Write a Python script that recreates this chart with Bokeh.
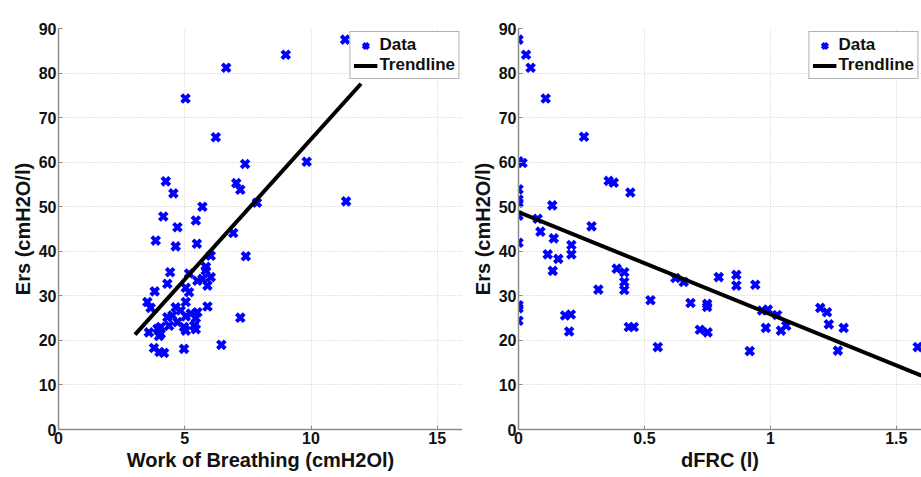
from bokeh.plotting import figure
from bokeh.layouts import row
from bokeh.models import Range1d, FixedTicker, Legend, LegendItem, BoxAnnotation
from bokeh.embed import file_html
from bokeh.resources import INLINE

# ---- Left panel: Work of Breathing vs Ers ----
wob_x = [11.35, 9.0, 6.64, 5.03, 6.23, 9.83, 7.39, 4.25, 7.04, 7.2, 4.55, 11.39, 7.86, 5.7,
         4.15, 5.44, 4.71, 6.92, 3.85, 5.48, 4.64,
         7.42, 6.03, 4.42, 4.31, 3.81, 3.52, 3.65, 3.58, 3.78, 4.0, 4.18, 4.97, 6.45, 7.2,
         5.9, 5.17, 5.83, 6.03, 5.7, 5.9, 5.5, 5.04, 5.17, 5.04, 4.64, 4.84, 5.24, 4.51,
         5.5, 5.44, 5.04, 4.71, 4.38, 4.05, 4.97, 5.37, 5.44, 5.04, 3.92, 4.05, 3.98, 4.31, 5.84]
wob_ers = [87.5, 84.1, 81.2, 74.3, 65.6, 60.1, 59.6, 55.7, 55.3, 53.8, 53.0, 51.2, 50.9, 50.0,
           47.8, 46.9, 45.4, 44.1, 42.4, 41.7, 41.1,
           38.9, 39.0, 35.3, 32.7, 31.0, 28.6, 27.3, 21.8, 18.3, 17.4, 17.2, 18.1, 19.0, 25.1,
           27.6, 35.0, 35.7, 34.2, 33.8, 32.3, 33.4, 31.8, 30.8, 28.6, 27.4, 26.7, 26.0, 25.6,
           26.3, 25.0, 25.4, 24.1, 23.3, 23.0, 23.0, 23.3, 22.5, 22.2, 22.6, 21.5, 21.0, 25.2, 36.5]
wob_trend_x = [3.03, 11.98]
wob_trend_y = [21.3, 77.6]

# ---- Right panel: dFRC vs Ers ----
dfrc_x = [0.0, 0.03, 0.048, 0.108, 0.26, 0.0, 0.016, 0.0, 0.0, 0.0, 0.134, 0.358, 0.378, 0.444,
          0.0, 0.076, 0.087, 0.29, 0.14, 0.0, 0.21,
          0.116, 0.158, 0.136, 0.21, 0.317, 0.39, 0.42, 0.42, 0.42, 0.0, 0.0, 0.0, 0.185, 0.208,
          0.201, 0.438, 0.458, 0.524, 0.553, 0.623, 0.656, 0.683, 0.749, 0.749, 0.72, 0.751,
          0.795, 0.865, 0.865, 0.94, 0.918, 0.967, 0.99, 0.982, 1.027, 1.042, 1.063, 1.198,
          1.225, 1.232, 1.291, 1.268, 1.585]
dfrc_ers = [87.5, 84.1, 81.2, 74.3, 65.7, 60.2, 59.8, 53.9, 51.6, 50.9, 50.3, 55.8, 55.4, 53.2,
            48.0, 47.3, 44.4, 45.6, 42.9, 41.9, 41.4,
            39.3, 38.3, 35.6, 39.3, 31.4, 36.1, 35.3, 33.1, 31.3, 27.9, 27.2, 24.4, 25.6, 25.8,
            22.0, 23.0, 23.0, 29.0, 18.5, 34.0, 33.1, 28.4, 28.2, 27.5, 22.4, 21.8,
            34.2, 34.7, 32.3, 32.5, 17.6, 26.7, 26.9, 22.8, 25.7, 22.2, 23.3, 27.3,
            26.3, 23.6, 22.8, 17.7, 18.5]
dfrc_trend_x = [0.0, 1.6]
dfrc_trend_y = [48.8, 12.1]

y_ticks = [0, 10, 20, 30, 40, 50, 60, 70, 80, 90]
wob_ticks = [0, 5, 10, 15]
dfrc_ticks = [0, 0.5, 1, 1.5]

FONT = "Liberation Sans"
BLUE = "#0000FF"


def make_panel(xs, ys, tx, ty, xr, xticks, xlabel, width, border_left, border_right):
    p = figure(width=width, height=475, output_backend="svg", toolbar_location=None,
               x_range=Range1d(*xr), y_range=Range1d(0, 90),
               min_border_left=border_left, min_border_right=border_right,
               min_border_top=28, min_border_bottom=46)
    p.outline_line_color = None
    p.background_fill_color = "white"
    p.border_fill_color = "white"

    r_data = p.scatter(xs, ys, marker="x", size=11, line_width=4, color=BLUE)
    r_line = p.line(tx, ty, line_width=4, color="black")

    for ax in (p.xaxis[0], p.yaxis[0]):
        ax.axis_line_color = "#8c8c8c"
        ax.axis_line_width = 1.5
        ax.major_tick_line_color = "#8c8c8c"
        ax.major_tick_in = 4
        ax.major_tick_out = 0
        ax.minor_tick_line_color = None
        ax.major_label_text_font = FONT
        ax.major_label_text_font_size = "16px"
        ax.major_label_text_font_style = "bold"
        ax.major_label_text_color = "#111111"
        ax.axis_label_text_font = FONT
        ax.axis_label_text_font_size = "20px"
        ax.axis_label_text_font_style = "bold"
        ax.axis_label_text_color = "#111111"
        ax.major_label_standoff = 2
        ax.axis_label_standoff = 2

    p.xaxis[0].ticker = FixedTicker(ticks=xticks)
    p.yaxis[0].ticker = FixedTicker(ticks=y_ticks)
    p.xaxis[0].axis_label = xlabel
    p.yaxis[0].axis_label = "Ers (cmH2O/l)"
    if xticks == dfrc_ticks:
        p.xaxis[0].major_label_overrides = {0: "0", 0.5: "0.5", 1: "1", 1.5: "1.5"}

    for g in (p.xgrid[0], p.ygrid[0]):
        g.grid_line_color = "#c8c8c8"
        g.grid_line_dash = "1 2"
        g.grid_line_width = 1
    p.xgrid[0].ticker = FixedTicker(ticks=xticks)
    p.ygrid[0].ticker = FixedTicker(ticks=y_ticks)

    legend = Legend(items=[LegendItem(label="Data", renderers=[r_data]),
                           LegendItem(label="Trendline", renderers=[r_line])],
                    location="top_right")
    legend.label_text_font = FONT
    legend.label_text_font_size = "17px"
    legend.label_text_font_style = "bold"
    legend.label_text_color = "#111111"
    legend.border_line_color = "#666666"
    legend.border_line_width = 1.5
    legend.padding = 3
    legend.margin = 3
    legend.spacing = 0
    legend.glyph_width = 24
    legend.glyph_height = 19
    legend.label_standoff = 2
    legend.label_height = 19
    p.add_layout(legend)

    # thin black frame line along the top of the image
    top_rule = BoxAnnotation(left=0, right=width, top=3, bottom=5,
                             left_units="canvas", right_units="canvas",
                             top_units="canvas", bottom_units="canvas",
                             fill_color="black", fill_alpha=1.0, line_color=None,
                             level="overlay")
    p.add_layout(top_rule)
    return p


left = make_panel(wob_x, wob_ers, wob_trend_x, wob_trend_y, (0, 16), wob_ticks,
                  "Work of Breathing (cmH2Ol)", 462, 58, 0)
right = make_panel(dfrc_x, dfrc_ers, dfrc_trend_x, dfrc_trend_y, (0, 1.6), dfrc_ticks,
                   "dFRC (l)", 459, 56, 0)

layout = row(left, right)
open("out.html", "w").write(file_html(layout, INLINE))
